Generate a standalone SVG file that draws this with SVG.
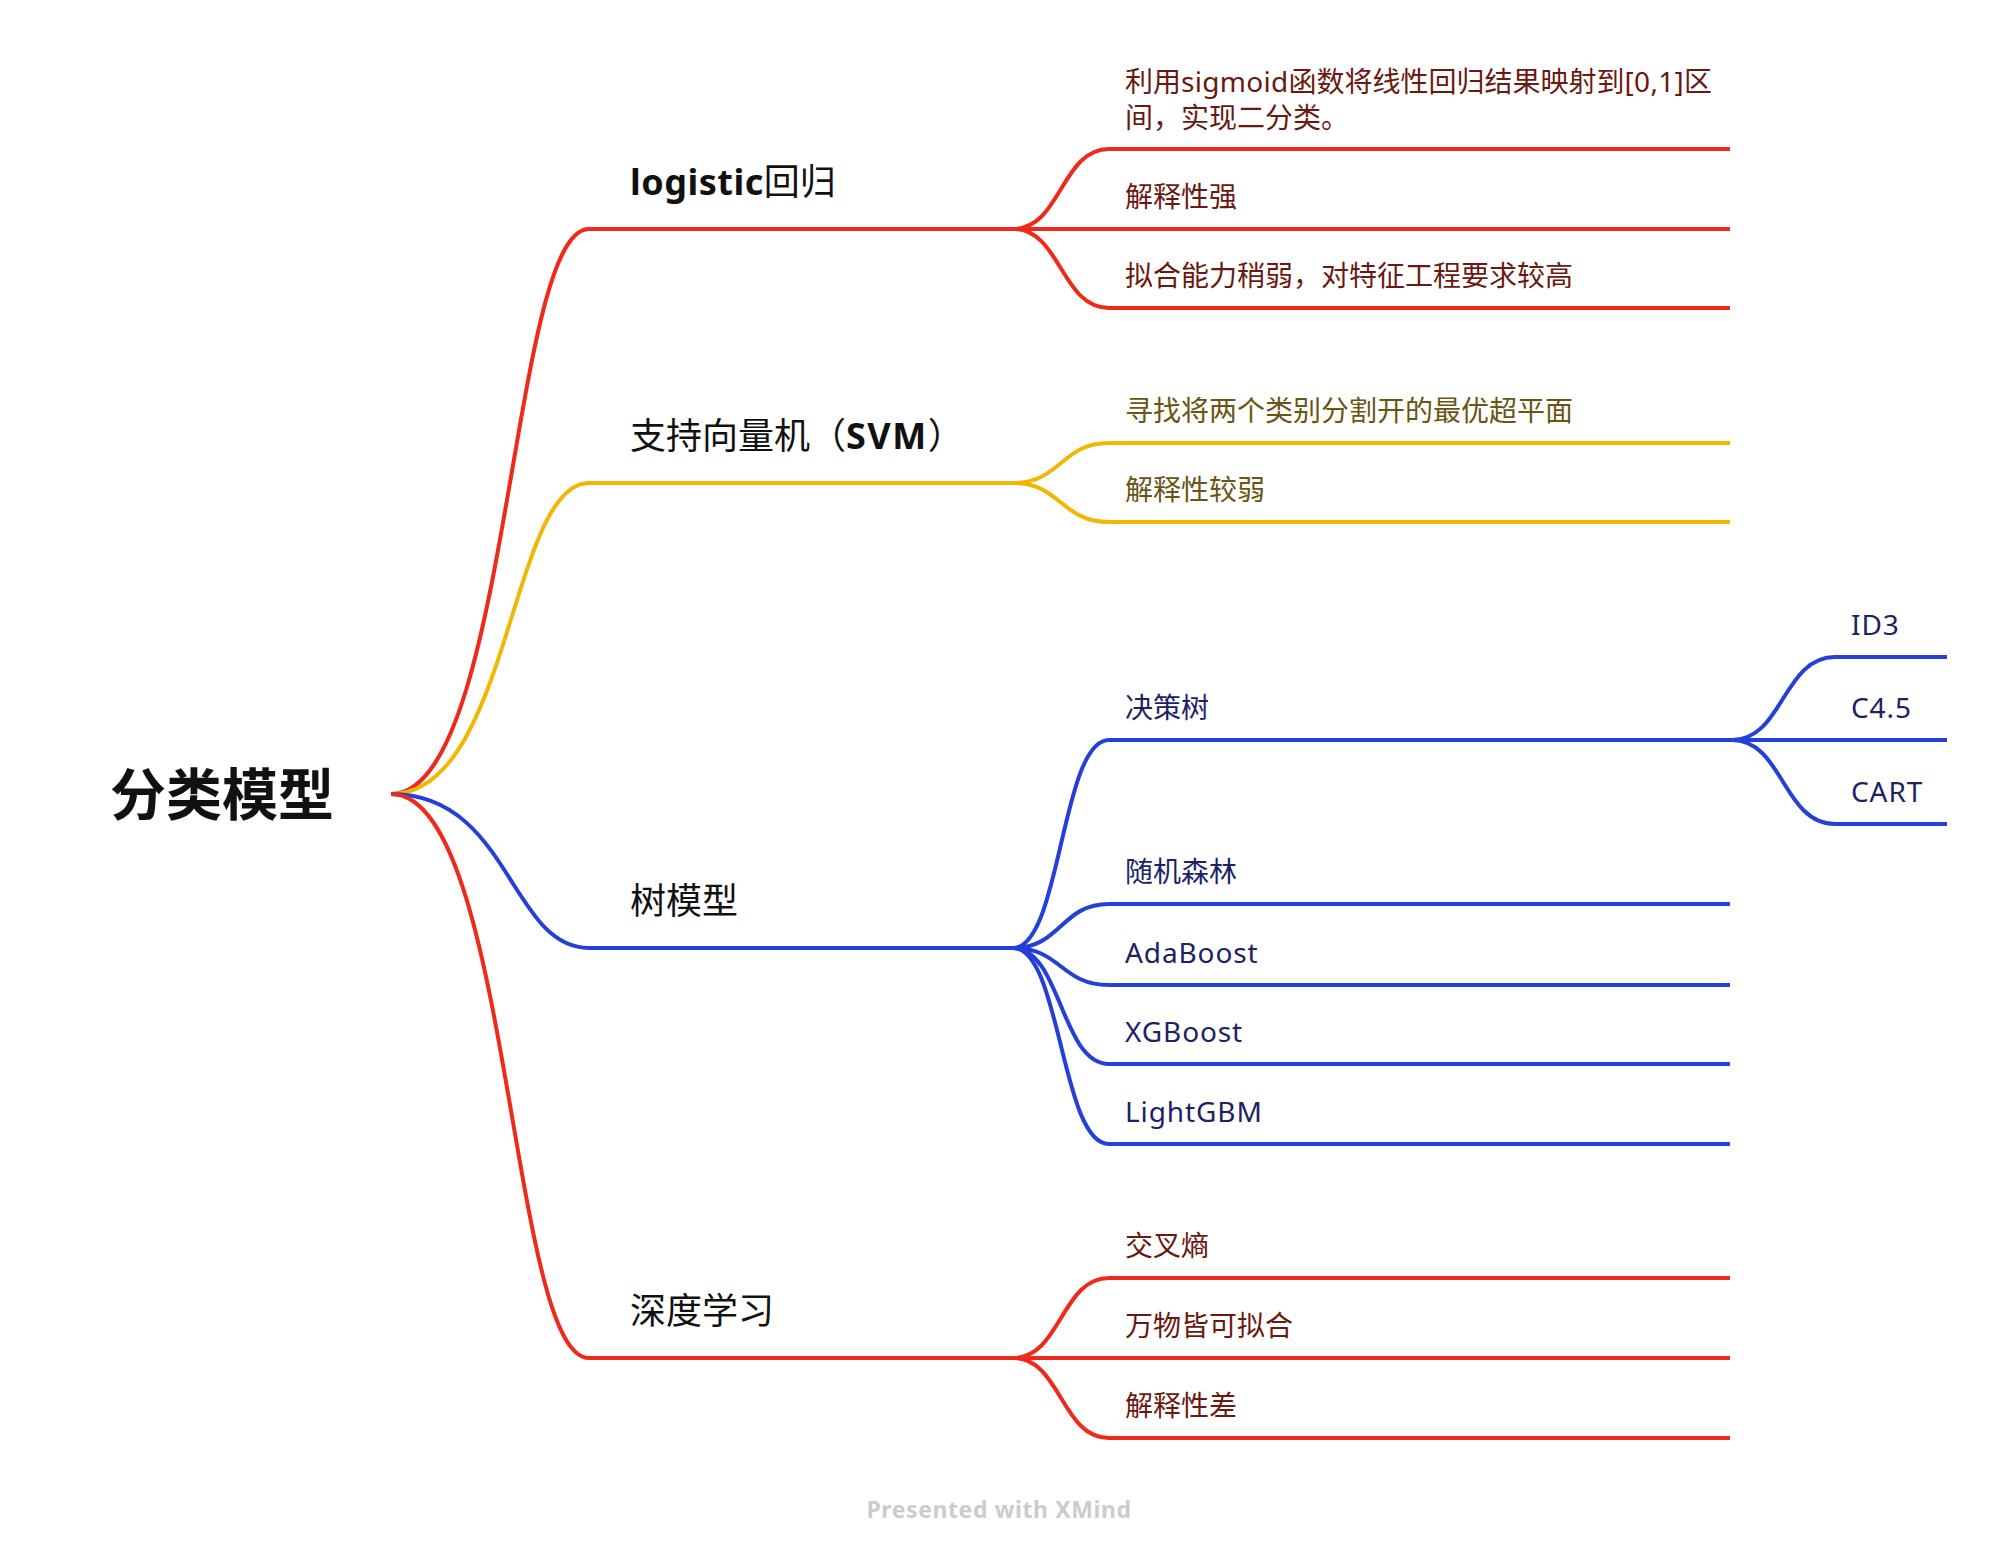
<svg xmlns="http://www.w3.org/2000/svg" width="1998" height="1560" viewBox="0 0 1998 1560">
<style>
  text { font-family: "Noto Sans", "Noto Sans CJK SC", sans-serif; }
  .root { font-size: 56px; font-weight: bold; fill: #111111; }
  .main { font-size: 36px; fill: #111111; }
  .b { font-weight: bold; letter-spacing: 0.5px; }
  .sub { font-size: 28px; }
  .lat { letter-spacing: 0.9px; }
  .lat2 { letter-spacing: 0.3px; }
  .tr { fill: #6B1810; }
  .ty { fill: #6A5512; }
  .tb { fill: #1B2266; }
  .ln { fill: none; stroke-width: 4; stroke-linecap: butt; }
  .red { stroke: #EE2A1B; }
  .yel { stroke: #F2B705; }
  .blu { stroke: #2540D8; }
  .wm { font-size: 23px; font-weight: bold; fill: #CCCCCC; letter-spacing: 0.6px; }
</style>
<rect width="1998" height="1560" fill="#FFFFFF"/>
<g id="connectors" transform="translate(0,1)">
  <path class="ln red" d="M391,793 C510,793 510,228 589,228 L1013,228"/>
  <path class="ln yel" d="M391,793 C510,793 510,482 589,482 L1013,482"/>
  <path class="ln blu" d="M391,793 C510,793 510,947 589,947 L1013,947"/>
  <path class="ln red" d="M391,793 C510,793 510,1357 589,1357 L1013,1357"/>
  <path class="ln red" d="M1013,228 C1061,228 1061,148 1109,148 L1730,148"/>
  <path class="ln red" d="M1013,228 L1730,228"/>
  <path class="ln red" d="M1013,228 C1061,228 1061,307 1109,307 L1730,307"/>
  <path class="ln yel" d="M1013,482 C1061,482 1061,442 1109,442 L1730,442"/>
  <path class="ln yel" d="M1013,482 C1061,482 1061,521 1109,521 L1730,521"/>
  <path class="ln blu" d="M1013,947 C1061,947 1061,739 1109,739 L1732,739"/>
  <path class="ln blu" d="M1013,947 C1061,947 1061,903 1109,903 L1730,903"/>
  <path class="ln blu" d="M1013,947 C1061,947 1061,984 1109,984 L1730,984"/>
  <path class="ln blu" d="M1013,947 C1061,947 1061,1063 1109,1063 L1730,1063"/>
  <path class="ln blu" d="M1013,947 C1061,947 1061,1143 1109,1143 L1730,1143"/>
  <path class="ln blu" d="M1732,739 C1783,739 1783,656 1835,656 L1947,656"/>
  <path class="ln blu" d="M1732,739 L1947,739"/>
  <path class="ln blu" d="M1732,739 C1783,739 1783,823 1835,823 L1947,823"/>
  <path class="ln red" d="M1013,1357 C1061,1357 1061,1277 1109,1277 L1730,1277"/>
  <path class="ln red" d="M1013,1357 L1730,1357"/>
  <path class="ln red" d="M1013,1357 C1061,1357 1061,1437 1109,1437 L1730,1437"/>
</g>
<g id="root"><text class="root" x="110" y="815">分类模型</text></g>
<g id="n-logistic"><text class="main" x="630" y="195"><tspan class="b">logistic</tspan>回归</text></g>
<g id="n-svm"><text class="main" x="630" y="449">支持向量机（<tspan class="b" style="letter-spacing:1.5px">SVM</tspan>）</text></g>
<g id="n-tree"><text class="main" x="630" y="914">树模型</text></g>
<g id="n-deep"><text class="main" x="630" y="1324">深度学习</text></g>
<g id="n-sigmoid"><text class="sub tr" x="1125" y="92">利用<tspan class="lat2">sigmoid</tspan>函数将线性回归结果映射到<tspan class="lat2">[0,1]</tspan>区</text><text class="sub tr" x="1125" y="128">间，实现二分类。</text></g>
<g id="n-interp-strong"><text class="sub tr" x="1125" y="207">解释性强</text></g>
<g id="n-fit-weak"><text class="sub tr" x="1125" y="286">拟合能力稍弱，对特征工程要求较高</text></g>
<g id="n-hyperplane"><text class="sub ty" x="1125" y="421">寻找将两个类别分割开的最优超平面</text></g>
<g id="n-interp-weak"><text class="sub ty" x="1125" y="500">解释性较弱</text></g>
<g id="n-dtree"><text class="sub tb" x="1125" y="718">决策树</text></g>
<g id="n-rf"><text class="sub tb" x="1125" y="882">随机森林</text></g>
<g id="n-ada"><text class="sub tb lat" x="1125" y="963">AdaBoost</text></g>
<g id="n-xgb"><text class="sub tb lat" x="1125" y="1042">XGBoost</text></g>
<g id="n-lgbm"><text class="sub tb lat" x="1125" y="1122">LightGBM</text></g>
<g id="n-id3"><text class="sub tb lat" x="1851" y="635">ID3</text></g>
<g id="n-c45"><text class="sub tb lat" x="1851" y="718">C4.5</text></g>
<g id="n-cart"><text class="sub tb lat" x="1851" y="802">CART</text></g>
<g id="n-ce"><text class="sub tr" x="1125" y="1256">交叉熵</text></g>
<g id="n-fitall"><text class="sub tr" x="1125" y="1336">万物皆可拟合</text></g>
<g id="n-interp-poor"><text class="sub tr" x="1125" y="1416">解释性差</text></g>
<text class="wm" x="999" y="1518" text-anchor="middle">Presented with XMind</text>
</svg>
